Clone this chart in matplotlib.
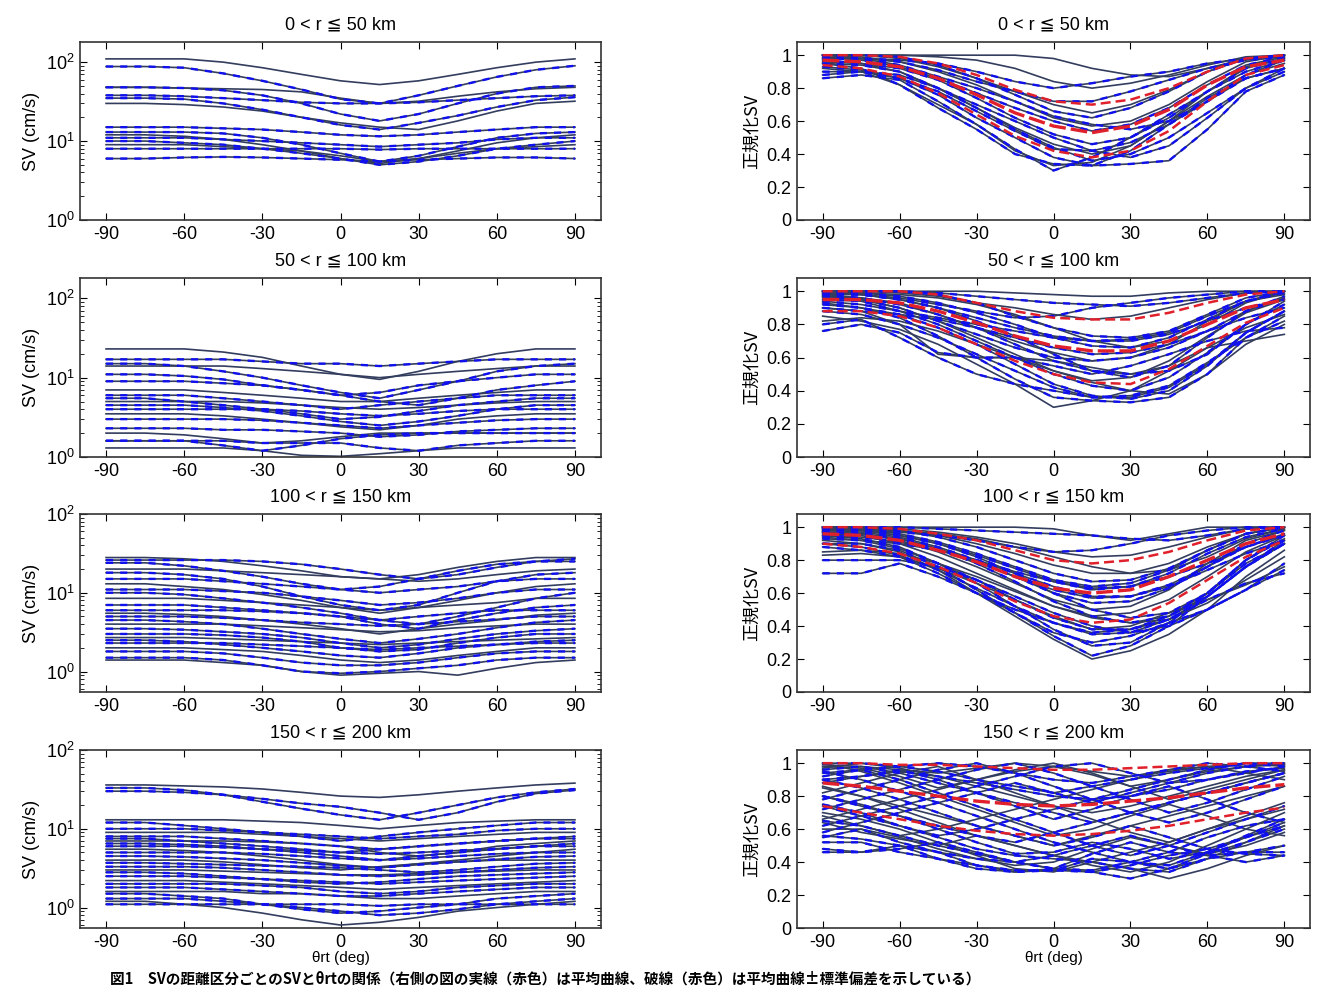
import numpy as np
import matplotlib.pyplot as plt

plt.rcParams['font.family'] = ['Liberation Sans', 'DejaVu Sans', 'Noto Sans CJK JP']
plt.rcParams['axes.unicode_minus'] = False

# angle grid (deg) shared by every curve
theta = [-90, -75, -60, -45, -30, -15, 0, 15, 30, 45, 60, 75, 90]

titles = ['0 < r ≦ 50 km', '50 < r ≦ 100 km', '100 < r ≦ 150 km', '150 < r ≦ 200 km']

# SV (cm/s), left column
sv_r50 = [
    [110, 110, 110, 100, 85, 70, 58, 52, 58, 70, 85, 100, 110],
    [88, 88, 85, 72, 58, 45, 34, 30, 38, 50, 65, 80, 90],
    [48, 48, 47, 44, 38, 30, 22, 18, 22, 30, 40, 48, 50],
    [48, 48, 47, 46, 45, 42, 35, 30, 32, 37, 42, 46, 48],
    [38, 38, 37, 35, 33, 31, 30, 30, 31, 33, 35, 37, 38],
    [35, 35, 34, 30, 25, 20, 16, 14, 17, 21, 27, 33, 36],
    [30, 30, 29, 27, 24, 20, 17, 15, 14, 18, 24, 30, 32],
    [15, 15, 15, 14.5, 14, 13, 12, 11.5, 12, 13, 14, 15, 15],
    [13, 13, 13, 12.5, 11, 9, 7, 5.5, 6.5, 8.5, 11, 12.5, 13],
    [12, 12, 11.5, 10.5, 9, 7.5, 6, 5.2, 6, 7.5, 9.5, 11, 12],
    [11, 11, 11, 10.5, 10, 9.5, 9, 8.5, 9, 9.5, 10.5, 11, 11],
    [10, 10, 9.5, 9, 8, 7, 6, 5, 5.5, 6.5, 8, 9, 10],
    [9, 9, 9, 8.5, 8, 7.5, 6.5, 5.5, 6, 7, 8, 8.5, 9],
    [8, 8, 8, 8, 8, 8, 8, 7.8, 8, 8, 8, 8, 8],
    [6, 6, 6.2, 6.3, 6.2, 6, 5.8, 5.5, 5.8, 6, 6.2, 6.2, 6],
]
sv_r100 = [
    [23, 23, 23, 21, 18, 14, 11, 9.5, 12, 16, 20, 23, 23],
    [17, 17, 17, 17, 16, 15, 15, 14, 15, 16, 17, 17, 17],
    [15, 15, 14, 12, 10, 8, 6.5, 5.5, 7, 9, 12, 14, 15],
    [14, 14, 14, 14, 13, 12, 11, 10, 11, 12, 13, 14, 14],
    [11, 11, 10.5, 9.5, 8, 7, 6, 6.5, 8, 9, 10, 11, 11],
    [9, 9, 9, 8.5, 8, 7, 6, 5, 4.5, 5.5, 7, 8, 9],
    [7, 7, 7, 6.5, 6, 5.5, 5, 5, 5.5, 6, 6.5, 7, 7],
    [6, 6, 6, 5.5, 5, 4.5, 4, 4.5, 5, 5.5, 6, 6, 6],
    [5.5, 5.5, 5, 4.5, 4, 3.5, 3, 3.2, 3.8, 4.5, 5, 5.5, 5.5],
    [5, 5, 5, 5, 4.8, 4.5, 4.2, 4, 4.2, 4.5, 4.8, 5, 5],
    [4.5, 4.5, 4.5, 4.2, 3.8, 3.3, 2.8, 2.5, 2.8, 3.3, 4, 4.5, 4.5],
    [4, 4, 4, 4, 4, 3.8, 3.5, 3.3, 3.5, 3.8, 4, 4, 4],
    [3.5, 3.5, 3.5, 3.3, 3, 2.7, 2.4, 2.2, 2.5, 3, 3.3, 3.5, 3.5],
    [3, 3, 3, 3, 2.9, 2.7, 2.5, 2.3, 2.5, 2.7, 2.9, 3, 3],
    [2.3, 2.3, 2.3, 2.2, 2.2, 2.1, 2, 1.8, 1.9, 2.1, 2.2, 2.3, 2.3],
    [2.0, 2.0, 1.9, 1.7, 1.5, 1.6, 1.8, 2, 2, 2, 2, 2, 2],
    [1.6, 1.6, 1.6, 1.4, 1.2, 1.4, 1.7, 1.9, 2, 2, 2, 2, 2],
    [1.6, 1.6, 1.6, 1.6, 1.5, 1.5, 1.5, 1.3, 1.2, 1.4, 1.5, 1.6, 1.6],
    [1.3, 1.3, 1.3, 1.3, 1.2, 1.05, 1.02, 1.1, 1.2, 1.3, 1.3, 1.3, 1.3],
]
sv_r150 = [
    [28, 28, 27, 25, 22, 19, 16, 15, 17, 21, 25, 28, 28],
    [26, 26, 26, 26, 25, 23, 20, 17, 15, 17, 21, 25, 27],
    [24, 24, 22, 19, 16, 13, 11, 12, 15, 19, 23, 25, 25],
    [20, 20, 20, 19, 18, 17, 16, 15, 14, 15, 17, 19, 20],
    [18, 18, 17, 15, 12, 9, 7, 6, 7, 10, 14, 17, 18],
    [15, 15, 15, 14, 13, 12, 11, 10, 11, 12, 14, 15, 15],
    [13, 13, 12, 11, 9.5, 8, 6.5, 5.5, 6.5, 8, 10, 12, 13],
    [11, 11, 11, 10.5, 10, 9, 8, 7, 7.5, 8.5, 10, 11, 11],
    [10, 10, 9.5, 8.5, 7.5, 6.5, 5.5, 4.5, 4, 5, 6.5, 8.5, 10],
    [8.5, 8.5, 8.5, 8, 7.5, 7, 6.5, 6, 6.5, 7, 7.5, 8.5, 8.5],
    [7, 7, 7, 6.5, 6, 5.5, 5, 4, 3.5, 4.5, 5.5, 6.5, 7],
    [6, 6, 6, 6, 5.8, 5.5, 5, 4.5, 5, 5.5, 6, 6, 6],
    [5.5, 5.5, 5.3, 5, 4.5, 4, 3.5, 3, 3.5, 4, 4.5, 5.2, 5.5],
    [5, 5, 5, 4.8, 4.5, 4.2, 4, 3.8, 4, 4.3, 4.6, 5, 5],
    [4.5, 4.5, 4.3, 4, 3.5, 3, 2.6, 2.3, 2.6, 3, 3.6, 4.2, 4.5],
    [4, 4, 4, 4, 3.8, 3.6, 3.4, 3.2, 3.3, 3.6, 3.8, 4, 4],
    [3.5, 3.5, 3.4, 3.2, 3, 2.7, 2.3, 2, 2.2, 2.6, 3, 3.3, 3.5],
    [3, 3, 3, 2.9, 2.7, 2.4, 2, 1.8, 1.9, 2.3, 2.7, 3, 3],
    [2.7, 2.7, 2.7, 2.6, 2.5, 2.4, 2.3, 2.2, 2.3, 2.4, 2.5, 2.6, 2.7],
    [2.5, 2.5, 2.4, 2.2, 2, 1.8, 1.6, 1.5, 1.7, 2, 2.2, 2.4, 2.5],
    [2.3, 2.3, 2.3, 2.3, 2.2, 2.1, 2, 1.9, 2, 2.1, 2.2, 2.3, 2.3],
    [2, 2, 2, 1.9, 1.8, 1.6, 1.4, 1.3, 1.4, 1.6, 1.8, 2, 2],
    [1.8, 1.8, 1.8, 1.7, 1.5, 1.3, 1.2, 1.2, 1.3, 1.5, 1.7, 1.8, 1.8],
    [1.5, 1.5, 1.5, 1.4, 1.2, 1.0, 0.95, 1.0, 1.1, 1.2, 1.4, 1.5, 1.5],
    [1.4, 1.4, 1.4, 1.3, 1.2, 1.0, 0.9, 0.95, 1.0, 0.9, 1.1, 1.3, 1.4],
]
sv_r200 = [
    [36, 36, 35, 34, 32, 29, 26, 25, 27, 30, 33, 36, 38],
    [33, 33, 31, 27, 22, 18, 15, 13, 16, 20, 25, 29, 32],
    [30, 30, 29, 27, 24, 21, 19, 16, 13, 16, 22, 28, 31],
    [13, 13, 13, 13, 12.5, 12, 11, 10, 11, 12, 12.5, 13, 13],
    [12, 12, 11, 10, 9, 8, 7, 8, 9, 10, 11, 12, 12],
    [10, 10, 10, 9.5, 9, 8.5, 8, 7.5, 8, 8.5, 9.5, 10, 10],
    [9, 9, 9, 9, 8.5, 8, 7.5, 7, 7.5, 8, 8.5, 9, 9],
    [8, 8, 8, 7.5, 7, 6.5, 6, 5.5, 6, 6.5, 7, 7.5, 8],
    [7.5, 7.5, 7, 6.5, 6, 5.5, 5, 5.5, 6, 6.5, 7, 7.5, 7.5],
    [7, 7, 7, 7, 6.8, 6.5, 6, 5, 4.5, 5, 6, 6.5, 7],
    [6.5, 6.5, 6.3, 6, 5.5, 5, 4.5, 4, 4.5, 5, 5.5, 6, 6.5],
    [6, 6, 6, 5.8, 5.5, 5.3, 5, 4.8, 5, 5.3, 5.6, 6, 6],
    [5.5, 5.5, 5.3, 5, 4.5, 4, 3.5, 3.2, 3.6, 4, 4.5, 5, 5.5],
    [5, 5, 5, 5, 4.8, 4.5, 4.2, 4, 4.2, 4.5, 4.8, 5, 5],
    [4.5, 4.5, 4.4, 4.2, 4, 3.7, 3.4, 3.2, 3.5, 3.8, 4.1, 4.4, 4.5],
    [4, 4, 4, 3.8, 3.5, 3.2, 3, 3.3, 3.6, 3.8, 4, 4, 4],
    [3.7, 3.7, 3.6, 3.5, 3.4, 3.3, 3.2, 3, 2.8, 3, 3.3, 3.6, 3.7],
    [3.3, 3.3, 3.3, 3.2, 3, 2.8, 2.6, 2.5, 2.6, 2.8, 3, 3.2, 3.3],
    [3, 3, 3, 2.9, 2.8, 2.7, 2.6, 2.6, 2.7, 2.8, 2.9, 3, 3],
    [2.8, 2.8, 2.7, 2.5, 2.3, 2.1, 2, 2.1, 2.3, 2.5, 2.6, 2.7, 2.8],
    [2.5, 2.5, 2.5, 2.4, 2.3, 2.2, 2.1, 2, 2.1, 2.2, 2.3, 2.4, 2.5],
    [2.2, 2.2, 2.2, 2.1, 2, 1.9, 1.8, 1.7, 1.8, 1.9, 2, 2.1, 2.2],
    [2, 2, 2, 2, 1.9, 1.8, 1.6, 1.5, 1.6, 1.8, 1.9, 2, 2],
    [1.8, 1.8, 1.8, 1.7, 1.6, 1.5, 1.4, 1.4, 1.5, 1.6, 1.7, 1.8, 1.8],
    [1.6, 1.6, 1.6, 1.6, 1.5, 1.5, 1.4, 1.3, 1.3, 1.4, 1.5, 1.6, 1.6],
    [1.5, 1.5, 1.4, 1.3, 1.1, 0.95, 0.85, 0.9, 1.0, 1.1, 1.3, 1.4, 1.5],
    [1.3, 1.3, 1.3, 1.2, 1.1, 1.0, 0.9, 0.8, 0.85, 0.95, 1.1, 1.2, 1.3],
    [1.2, 1.2, 1.1, 1.0, 0.85, 0.7, 0.6, 0.65, 0.75, 0.9, 1.0, 1.1, 1.2],
    [1.1, 1.1, 1.1, 1.1, 1.1, 1.1, 1.1, 1.05, 1.1, 1.1, 1.1, 1.1, 1.1],
]

# normalized SV, right column
nsv_r50 = [
    [1, 1, 1, 1, 1, 1, 0.98, 0.92, 0.88, 0.87, 0.92, 0.98, 1],
    [0.98, 0.98, 0.97, 0.95, 0.9, 0.84, 0.8, 0.83, 0.87, 0.9, 0.95, 0.98, 1],
    [1, 1, 0.99, 0.94, 0.86, 0.76, 0.66, 0.62, 0.68, 0.78, 0.9, 0.98, 1],
    [0.96, 0.95, 0.9, 0.8, 0.68, 0.56, 0.46, 0.4, 0.45, 0.6, 0.78, 0.93, 0.98],
    [0.9, 0.9, 0.86, 0.76, 0.62, 0.5, 0.38, 0.33, 0.34, 0.36, 0.55, 0.78, 0.88],
    [0.88, 0.9, 0.88, 0.8, 0.68, 0.55, 0.44, 0.36, 0.4, 0.5, 0.65, 0.8, 0.9],
    [0.92, 0.9, 0.82, 0.7, 0.58, 0.42, 0.33, 0.35, 0.45, 0.6, 0.75, 0.88, 0.95],
    [0.86, 0.88, 0.85, 0.72, 0.58, 0.43, 0.3, 0.38, 0.5, 0.64, 0.78, 0.9, 0.97],
    [0.95, 0.92, 0.82, 0.68, 0.55, 0.4, 0.34, 0.33, 0.42, 0.58, 0.74, 0.86, 0.92],
    [1, 0.99, 0.96, 0.9, 0.82, 0.72, 0.62, 0.57, 0.6, 0.7, 0.84, 0.96, 1],
    [0.99, 0.97, 0.93, 0.86, 0.77, 0.68, 0.6, 0.54, 0.58, 0.68, 0.82, 0.94, 0.99],
    [0.97, 0.95, 0.92, 0.85, 0.74, 0.62, 0.52, 0.46, 0.5, 0.62, 0.78, 0.92, 0.98],
    [1, 1, 0.98, 0.93, 0.86, 0.78, 0.7, 0.65, 0.7, 0.79, 0.9, 0.98, 1],
    [0.93, 0.91, 0.86, 0.78, 0.66, 0.54, 0.43, 0.42, 0.47, 0.58, 0.72, 0.86, 0.92],
    [0.98, 0.98, 0.96, 0.91, 0.84, 0.78, 0.72, 0.72, 0.78, 0.85, 0.92, 0.97, 0.99],
    [1, 1, 1, 0.99, 0.97, 0.92, 0.84, 0.8, 0.83, 0.88, 0.94, 0.99, 1],
    [0.95, 0.94, 0.9, 0.8, 0.7, 0.6, 0.5, 0.42, 0.38, 0.45, 0.62, 0.8, 0.92],
    [1, 0.98, 0.94, 0.87, 0.8, 0.72, 0.63, 0.58, 0.55, 0.6, 0.72, 0.88, 0.97],
]
nsv_r100 = [
    [1, 1, 1, 1, 1, 0.99, 0.98, 0.97, 0.97, 0.99, 1, 1, 1],
    [0.98, 0.98, 0.96, 0.92, 0.88, 0.84, 0.85, 0.9, 0.93, 0.96, 0.98, 1, 1],
    [1, 1, 1, 0.98, 0.93, 0.85, 0.78, 0.73, 0.72, 0.76, 0.86, 0.96, 1],
    [0.97, 0.96, 0.93, 0.86, 0.78, 0.7, 0.63, 0.58, 0.6, 0.68, 0.82, 0.94, 0.98],
    [0.95, 0.94, 0.88, 0.8, 0.7, 0.6, 0.5, 0.43, 0.4, 0.48, 0.63, 0.8, 0.92],
    [0.92, 0.9, 0.84, 0.73, 0.6, 0.47, 0.36, 0.34, 0.33, 0.36, 0.5, 0.72, 0.85],
    [0.85, 0.82, 0.77, 0.68, 0.56, 0.44, 0.3, 0.34, 0.4, 0.52, 0.66, 0.78, 0.86],
    [0.76, 0.8, 0.75, 0.63, 0.6, 0.6, 0.55, 0.5, 0.55, 0.62, 0.7, 0.76, 0.78],
    [0.8, 0.83, 0.72, 0.6, 0.5, 0.44, 0.4, 0.36, 0.37, 0.43, 0.57, 0.72, 0.82],
    [0.9, 0.88, 0.8, 0.62, 0.6, 0.6, 0.58, 0.54, 0.5, 0.55, 0.66, 0.7, 0.74],
    [0.99, 0.98, 0.95, 0.9, 0.84, 0.78, 0.73, 0.7, 0.71, 0.75, 0.85, 0.94, 0.99],
    [1, 0.99, 0.97, 0.93, 0.87, 0.8, 0.72, 0.67, 0.66, 0.72, 0.83, 0.94, 1],
    [0.96, 0.95, 0.9, 0.82, 0.72, 0.62, 0.52, 0.46, 0.48, 0.58, 0.73, 0.87, 0.95],
    [0.99, 0.98, 0.95, 0.9, 0.82, 0.73, 0.62, 0.52, 0.48, 0.55, 0.72, 0.88, 0.97],
    [0.93, 0.9, 0.86, 0.78, 0.68, 0.56, 0.44, 0.37, 0.35, 0.4, 0.55, 0.75, 0.88],
    [1, 1, 0.99, 0.97, 0.93, 0.9, 0.86, 0.83, 0.85, 0.9, 0.95, 0.99, 1],
    [0.97, 0.95, 0.9, 0.82, 0.74, 0.66, 0.6, 0.58, 0.6, 0.66, 0.76, 0.88, 0.96],
    [0.88, 0.86, 0.8, 0.72, 0.62, 0.52, 0.42, 0.36, 0.36, 0.42, 0.56, 0.75, 0.88],
    [1, 0.99, 0.98, 0.96, 0.92, 0.86, 0.78, 0.7, 0.66, 0.7, 0.8, 0.93, 1],
    [0.94, 0.92, 0.88, 0.84, 0.8, 0.76, 0.72, 0.7, 0.7, 0.74, 0.82, 0.9, 0.95],
    [0.98, 0.96, 0.92, 0.86, 0.78, 0.68, 0.58, 0.52, 0.5, 0.52, 0.62, 0.8, 0.94],
    [0.82, 0.84, 0.82, 0.76, 0.68, 0.6, 0.52, 0.45, 0.4, 0.38, 0.5, 0.68, 0.8],
    [1, 1, 1, 0.99, 0.97, 0.95, 0.93, 0.92, 0.91, 0.93, 0.96, 0.99, 1],
    [0.9, 0.88, 0.86, 0.83, 0.78, 0.72, 0.66, 0.62, 0.63, 0.68, 0.76, 0.84, 0.9],
]
nsv_r150 = [
    [1, 1, 1, 1, 1, 1, 0.99, 0.95, 0.92, 0.96, 1, 1, 1],
    [0.98, 0.98, 0.97, 0.95, 0.92, 0.88, 0.85, 0.86, 0.9, 0.95, 0.98, 1, 1],
    [1, 1, 0.98, 0.94, 0.88, 0.8, 0.72, 0.67, 0.68, 0.75, 0.86, 0.96, 1],
    [0.97, 0.96, 0.92, 0.85, 0.76, 0.66, 0.56, 0.5, 0.52, 0.62, 0.78, 0.92, 0.98],
    [0.95, 0.93, 0.88, 0.78, 0.66, 0.52, 0.38, 0.28, 0.3, 0.42, 0.6, 0.8, 0.93],
    [0.9, 0.9, 0.86, 0.76, 0.62, 0.48, 0.34, 0.22, 0.28, 0.4, 0.58, 0.76, 0.9],
    [0.92, 0.9, 0.85, 0.74, 0.6, 0.46, 0.32, 0.2, 0.25, 0.35, 0.5, 0.7, 0.86],
    [0.88, 0.86, 0.82, 0.72, 0.6, 0.48, 0.36, 0.3, 0.34, 0.42, 0.5, 0.62, 0.78],
    [0.72, 0.72, 0.78, 0.7, 0.6, 0.5, 0.42, 0.36, 0.38, 0.44, 0.56, 0.66, 0.72],
    [0.83, 0.84, 0.82, 0.75, 0.66, 0.56, 0.46, 0.38, 0.4, 0.48, 0.56, 0.65, 0.76],
    [0.99, 0.98, 0.95, 0.9, 0.83, 0.75, 0.67, 0.62, 0.64, 0.72, 0.84, 0.94, 0.99],
    [1, 0.99, 0.96, 0.91, 0.84, 0.76, 0.68, 0.64, 0.66, 0.74, 0.86, 0.96, 1],
    [0.96, 0.95, 0.9, 0.82, 0.72, 0.62, 0.52, 0.46, 0.48, 0.56, 0.7, 0.85, 0.95],
    [0.98, 0.97, 0.94, 0.88, 0.8, 0.7, 0.6, 0.54, 0.55, 0.63, 0.76, 0.9, 0.98],
    [0.94, 0.92, 0.87, 0.78, 0.68, 0.56, 0.45, 0.38, 0.38, 0.46, 0.6, 0.78, 0.9],
    [1, 1, 0.99, 0.97, 0.94, 0.9, 0.85, 0.82, 0.83, 0.88, 0.94, 0.99, 1],
    [0.97, 0.96, 0.93, 0.87, 0.79, 0.7, 0.62, 0.57, 0.58, 0.65, 0.76, 0.88, 0.96],
    [0.9, 0.88, 0.83, 0.74, 0.63, 0.52, 0.42, 0.35, 0.36, 0.44, 0.58, 0.76, 0.9],
    [1, 0.99, 0.98, 0.95, 0.9, 0.84, 0.77, 0.72, 0.72, 0.78, 0.88, 0.96, 1],
    [0.95, 0.94, 0.91, 0.86, 0.8, 0.73, 0.67, 0.63, 0.64, 0.7, 0.78, 0.88, 0.95],
    [0.99, 0.98, 0.95, 0.9, 0.82, 0.72, 0.6, 0.5, 0.45, 0.48, 0.6, 0.8, 0.95],
    [0.85, 0.86, 0.84, 0.78, 0.7, 0.61, 0.52, 0.45, 0.42, 0.44, 0.54, 0.68, 0.82],
    [1, 1, 1, 0.99, 0.98, 0.97, 0.96, 0.95, 0.93, 0.92, 0.95, 0.99, 1],
    [0.93, 0.92, 0.9, 0.86, 0.8, 0.72, 0.64, 0.58, 0.58, 0.64, 0.74, 0.84, 0.92],
    [0.99, 0.99, 0.98, 0.96, 0.93, 0.88, 0.82, 0.76, 0.72, 0.74, 0.82, 0.93, 0.99],
    [0.97, 0.96, 0.93, 0.87, 0.78, 0.67, 0.55, 0.46, 0.42, 0.46, 0.58, 0.76, 0.92],
    [0.8, 0.8, 0.8, 0.76, 0.68, 0.58, 0.48, 0.4, 0.36, 0.4, 0.5, 0.62, 0.74],
]
nsv_r200 = [
    [0.98, 0.97, 0.92, 0.85, 0.9, 0.95, 0.98, 0.93, 0.86, 0.9, 0.95, 0.98, 0.99],
    [0.46, 0.46, 0.5, 0.42, 0.38, 0.34, 0.36, 0.45, 0.52, 0.46, 0.44, 0.46, 0.46],
    [0.52, 0.52, 0.46, 0.42, 0.36, 0.34, 0.35, 0.42, 0.4, 0.36, 0.42, 0.46, 0.5],
    [0.6, 0.6, 0.55, 0.48, 0.42, 0.38, 0.4, 0.48, 0.55, 0.5, 0.45, 0.5, 0.58],
    [0.55, 0.6, 0.52, 0.46, 0.38, 0.35, 0.35, 0.34, 0.3, 0.36, 0.45, 0.52, 0.6],
    [0.65, 0.62, 0.56, 0.5, 0.45, 0.4, 0.36, 0.35, 0.4, 0.46, 0.55, 0.62, 0.66],
    [0.7, 0.66, 0.6, 0.52, 0.44, 0.36, 0.34, 0.4, 0.46, 0.52, 0.6, 0.66, 0.72],
    [0.75, 0.7, 0.62, 0.55, 0.48, 0.44, 0.42, 0.4, 0.36, 0.34, 0.42, 0.52, 0.62],
    [0.8, 0.75, 0.68, 0.6, 0.52, 0.45, 0.46, 0.52, 0.48, 0.42, 0.46, 0.55, 0.64],
    [0.85, 0.8, 0.72, 0.64, 0.56, 0.5, 0.44, 0.38, 0.34, 0.4, 0.5, 0.6, 0.7],
    [0.9, 0.85, 0.78, 0.7, 0.62, 0.56, 0.5, 0.55, 0.62, 0.55, 0.48, 0.55, 0.62],
    [0.95, 0.9, 0.83, 0.76, 0.68, 0.6, 0.52, 0.46, 0.4, 0.38, 0.46, 0.56, 0.66],
    [1, 0.95, 0.88, 0.8, 0.72, 0.64, 0.56, 0.6, 0.68, 0.75, 0.68, 0.6, 0.56],
    [0.92, 0.96, 0.9, 0.82, 0.74, 0.66, 0.58, 0.5, 0.44, 0.5, 0.58, 0.66, 0.74],
    [0.88, 0.92, 0.96, 0.9, 0.82, 0.74, 0.66, 0.72, 0.8, 0.86, 0.78, 0.7, 0.64],
    [0.82, 0.88, 0.94, 0.98, 0.9, 0.82, 0.74, 0.66, 0.58, 0.52, 0.6, 0.68, 0.76],
    [0.78, 0.84, 0.9, 0.96, 1.0, 0.94, 0.86, 0.78, 0.7, 0.64, 0.7, 0.78, 0.86],
    [0.72, 0.78, 0.84, 0.9, 0.96, 1.0, 0.94, 0.86, 0.78, 0.7, 0.76, 0.84, 0.92],
    [0.66, 0.72, 0.78, 0.84, 0.9, 0.96, 1.0, 0.94, 0.86, 0.78, 0.84, 0.9, 0.96],
    [0.62, 0.68, 0.74, 0.8, 0.86, 0.92, 0.98, 1.0, 0.94, 0.88, 0.9, 0.94, 0.98],
    [0.58, 0.64, 0.7, 0.76, 0.82, 0.88, 0.82, 0.76, 0.82, 0.88, 0.94, 0.98, 1.0],
    [0.68, 0.62, 0.56, 0.6, 0.66, 0.72, 0.78, 0.84, 0.9, 0.96, 0.98, 0.94, 0.9],
    [0.74, 0.68, 0.62, 0.56, 0.6, 0.66, 0.72, 0.78, 0.84, 0.9, 0.96, 1.0, 0.98],
    [0.8, 0.74, 0.68, 0.62, 0.56, 0.52, 0.58, 0.64, 0.7, 0.76, 0.82, 0.88, 0.94],
    [0.86, 0.8, 0.74, 0.68, 0.62, 0.56, 0.5, 0.56, 0.62, 0.68, 0.74, 0.8, 0.86],
    [0.96, 0.98, 0.94, 0.88, 0.82, 0.76, 0.7, 0.64, 0.7, 0.76, 0.82, 0.88, 0.94],
    [1, 1, 0.98, 0.95, 0.9, 0.86, 0.82, 0.86, 0.9, 0.94, 0.97, 1, 1],
    [0.99, 0.98, 0.96, 0.94, 0.97, 1, 0.98, 0.95, 0.92, 0.95, 0.98, 1, 0.99],
    [0.94, 0.96, 0.98, 1, 0.98, 0.94, 0.9, 0.88, 0.92, 0.96, 1, 0.98, 0.95],
    [0.9, 0.92, 0.95, 0.92, 0.88, 0.84, 0.8, 0.78, 0.8, 0.84, 0.9, 0.95, 0.97],
    [0.97, 1, 0.97, 0.92, 0.86, 0.8, 0.74, 0.7, 0.74, 0.8, 0.86, 0.92, 0.96],
    [0.48, 0.46, 0.48, 0.52, 0.46, 0.4, 0.36, 0.34, 0.38, 0.44, 0.48, 0.45, 0.44],
    [0.56, 0.54, 0.5, 0.46, 0.42, 0.4, 0.44, 0.5, 0.56, 0.5, 0.44, 0.4, 0.44],
    [0.64, 0.58, 0.54, 0.5, 0.56, 0.5, 0.44, 0.4, 0.36, 0.3, 0.36, 0.44, 0.5],
]

# mean curve and mean +/- std (red) for the right column
mean_curves = [
    [0.97, 0.96, 0.93, 0.86, 0.76, 0.65, 0.57, 0.53, 0.57, 0.67, 0.82, 0.93, 0.97],
    [0.95, 0.95, 0.93, 0.88, 0.81, 0.73, 0.67, 0.64, 0.64, 0.7, 0.8, 0.9, 0.95],
    [0.96, 0.95, 0.92, 0.86, 0.79, 0.7, 0.63, 0.6, 0.62, 0.7, 0.8, 0.9, 0.96],
    [0.88, 0.86, 0.83, 0.8, 0.77, 0.75, 0.74, 0.75, 0.77, 0.79, 0.82, 0.85, 0.87],
]
upper_curves = [
    [1.0, 1.0, 0.99, 0.95, 0.88, 0.79, 0.72, 0.7, 0.73, 0.8, 0.9, 0.98, 1.0],
    [1.0, 1.0, 1.0, 0.98, 0.93, 0.88, 0.84, 0.83, 0.83, 0.87, 0.93, 0.98, 1.0],
    [1.0, 1.0, 0.99, 0.96, 0.92, 0.86, 0.8, 0.78, 0.8, 0.85, 0.92, 0.98, 1.0],
    [1.0, 1.0, 0.99, 0.99, 0.98, 0.97, 0.96, 0.96, 0.97, 0.98, 0.99, 1.0, 1.0],
]
lower_curves = [
    [0.94, 0.92, 0.87, 0.77, 0.64, 0.51, 0.42, 0.38, 0.42, 0.54, 0.72, 0.88, 0.94],
    [0.88, 0.88, 0.85, 0.78, 0.68, 0.58, 0.5, 0.45, 0.44, 0.53, 0.67, 0.81, 0.9],
    [0.9, 0.88, 0.84, 0.76, 0.66, 0.55, 0.46, 0.42, 0.44, 0.54, 0.68, 0.82, 0.92],
    [0.74, 0.7, 0.66, 0.62, 0.59, 0.57, 0.56, 0.57, 0.59, 0.62, 0.66, 0.7, 0.73],
]

sv_sets = [sv_r50, sv_r100, sv_r150, sv_r200]
nsv_sets = [nsv_r50, nsv_r100, nsv_r150, nsv_r200]
sv_ylims = [(1, 180), (1, 180), (0.55, 100), (0.55, 100)]

NAVY = '#333d5e'
BLUE = '#1010ee'
RED = '#e0202a'

W, H = 1334, 988
fig = plt.figure(figsize=(W / 100, H / 100), dpi=100)

rows = [(42, 220), (278, 457), (514, 692), (750, 928)]


def style(ax):
    ax.set_xlim(-100, 100)
    ax.set_xticks([-90, -60, -30, 0, 30, 60, 90])
    ax.tick_params(which='both', direction='in', top=True, right=True, labelsize=13, pad=4)
    ax.tick_params(which='major', length=5)
    ax.tick_params(which='minor', length=3)
    for s in ax.spines.values():
        s.set_linewidth(1.2)
        s.set_color('#333333')


def draw_curves(ax, curves):
    for i, c in enumerate(curves):
        ax.plot(theta, c, color=NAVY, lw=1.2, zorder=2)
        if i % 3 != 0:
            ax.plot(theta, c, color=BLUE, lw=1.7, dashes=(3, 3), zorder=3)


for k, (y0, y1) in enumerate(rows):
    hgt = (y1 - y0) / H
    bot = 1 - y1 / H

    # left: SV on log scale
    ax = fig.add_axes([80 / W, bot, 521 / W, hgt])
    draw_curves(ax, sv_sets[k])
    ax.set_yscale('log')
    ax.set_ylim(*sv_ylims[k])
    style(ax)
    ax.set_title(titles[k], fontsize=13, pad=9)
    ax.set_ylabel('SV (cm/s)', fontsize=13, labelpad=4)

    # right: normalized SV
    ax2 = fig.add_axes([797 / W, bot, 513 / W, hgt])
    draw_curves(ax2, nsv_sets[k])
    ax2.plot(theta, upper_curves[k], color=RED, lw=1.8, dashes=(4, 2), zorder=4)
    ax2.plot(theta, lower_curves[k], color=RED, lw=1.8, dashes=(4, 2), zorder=4)
    ax2.plot(theta, mean_curves[k], color=RED, lw=2.4, dashes=(5, 1.5), zorder=4)
    ax2.set_ylim(0, 1.08)
    ax2.set_yticks([0, 0.2, 0.4, 0.6, 0.8, 1])
    ax2.set_yticklabels(['0', '0.2', '0.4', '0.6', '0.8', '1'])
    style(ax2)
    ax2.set_title(titles[k], fontsize=13, pad=9)
    ax2.set_ylabel('正規化SV', fontsize=13, labelpad=4,
                   family=['Noto Sans CJK JP', 'DejaVu Sans'])

    if k == 3:
        ax.set_xlabel('θrt (deg)', fontsize=11, labelpad=0)
        ax2.set_xlabel('θrt (deg)', fontsize=11, labelpad=0)

caption = ('図1　SVの距離区分ごとのSVとθrtの関係（右側の図の実線（赤色）は平均曲線、'
           '破線（赤色）は平均曲線±標準偏差を示している）')
fig.text(110 / W, 4 / H, caption, fontsize=10.5, fontweight='bold', va='baseline', ha='left',
         family=['Noto Sans CJK JP', 'DejaVu Sans'])

fig.savefig('out.png', dpi=100, facecolor='white')
